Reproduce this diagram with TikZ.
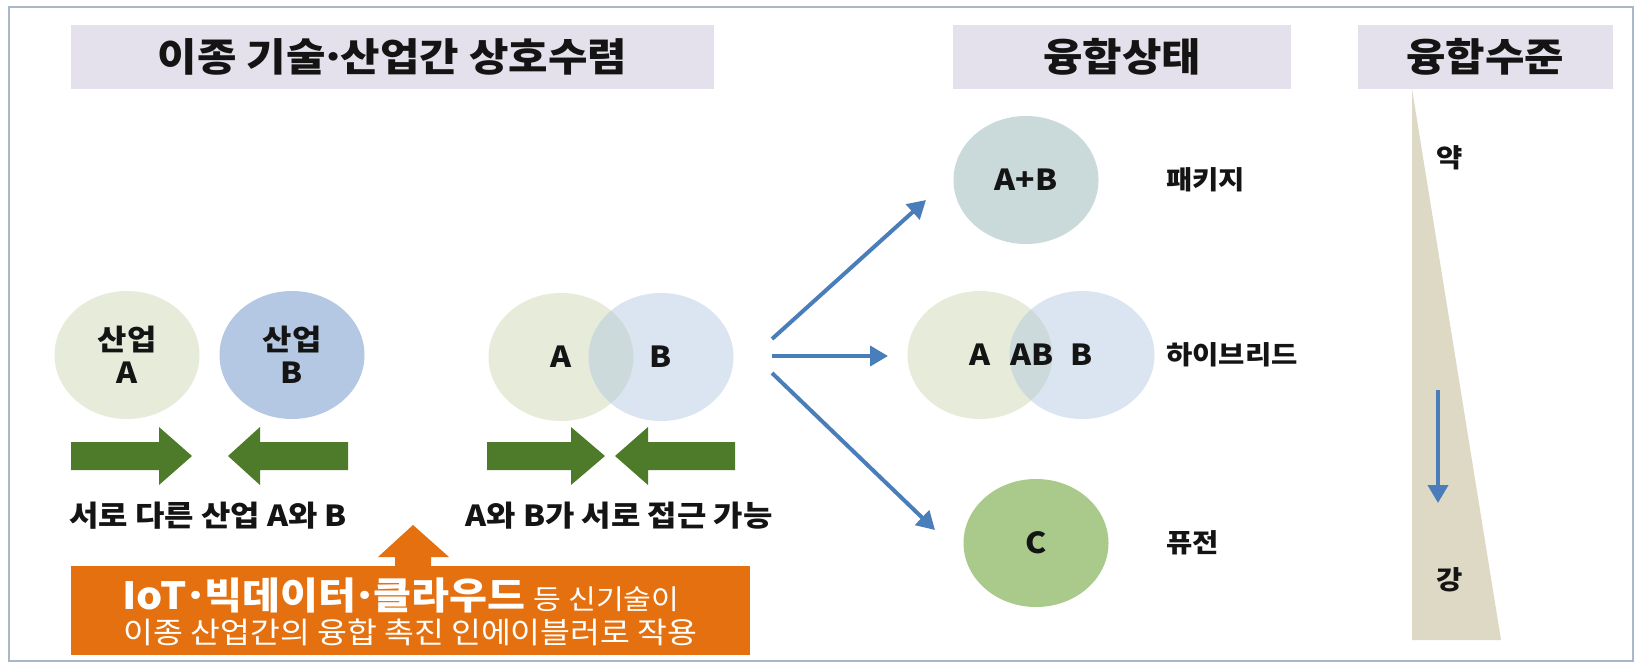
\documentclass[tikz,border=0pt]{standalone}
\usepackage{fontspec}
\setmainfont{Noto Sans CJK KR}[FakeStretch=1.1]
\newcommand{\mydot}{\kern-.14em·\kern-.14em}
\newcommand{\orgdot}{\kern-.1em·\kern-.1em}
\usetikzlibrary{shapes.geometric,arrows.meta}
\definecolor{framec}{HTML}{A9B7C8}
\definecolor{hdrc}{HTML}{E5E1EC}
\definecolor{cA}{HTML}{E7ECDA}
\definecolor{cB}{HTML}{B5C8E3}
\definecolor{cBt}{HTML}{ADC6E0}
\definecolor{cAB}{HTML}{CADADA}
\definecolor{cC}{HTML}{A9CA8B}
\definecolor{garrow}{HTML}{4E7B2A}
\definecolor{oranc}{HTML}{E5700F}
\definecolor{bluec}{HTML}{4A7EBB}
\definecolor{tanc}{HTML}{DDD9C5}
\definecolor{txt}{HTML}{141414}
\tikzset{
  hdr/.style={fill=hdrc, inner sep=0pt, minimum height=64pt, text=txt,
    font=\bfseries\fontsize{39}{42}\selectfont},
  circ/.style={ellipse, inner sep=0pt, minimum width=145pt, minimum height=128pt,
    text=txt, align=center, font=\bfseries\fontsize{29}{33}\selectfont},
  lbl/.style={inner sep=0pt, text=txt, font=\bfseries\fontsize{29}{33}\selectfont},
  rlbl/.style={inner sep=0pt, anchor=west, text=txt, font=\bfseries\fontsize{26}{30}\selectfont},
  barrow/.style={draw=bluec, line width=4pt, -{Triangle[length=18pt,width=20pt]}},
}
\begin{document}
\begin{tikzpicture}[x=1pt,y=-1pt]
\useasboundingbox (0,0) rectangle (1646,667);
\fill[white] (0,0) rectangle (1646,667);
\draw[framec, line width=2.5pt] (9,7) rectangle (1633,661);

% headers
\node[hdr, minimum width=643pt] (h1) at (392.5,57) {이종 기술\mydot 산업간 상호수렴};
\node[hdr, minimum width=338pt] (h2) at (1122,57) {융합상태};
\node[hdr, minimum width=255pt] (h3) at (1485,57) {융합수준};

% separate industries
\node[circ, fill=cA] (iA) at (127,355) {산업\\A};
\node[circ, fill=cB] (iB) at (292,355) {산업\\B};

% approaching industries
\node[circ, fill=cA] (pA) at (561,357) {A};
\node[circ, fill=cBt, fill opacity=0.45, text opacity=1] (pB) at (661,357) {B};

% green arrows
\fill[garrow] (71,442) -- (159,442) -- (159,427) -- (192,456) -- (159,485) -- (159,470) -- (71,470) -- cycle;
\fill[garrow] (348,442) -- (260,442) -- (260,427) -- (228,456) -- (260,485) -- (260,470) -- (348,470) -- cycle;
\fill[garrow] (487,442) -- (571,442) -- (571,427) -- (605,456) -- (571,485) -- (571,470) -- (487,470) -- cycle;
\fill[garrow] (735,442) -- (648,442) -- (648,427) -- (615,456) -- (648,485) -- (648,470) -- (735,470) -- cycle;

\node[lbl] (t1) at (208,516) {서로 다른 산업 A와 B};
\node[lbl] (t2) at (619,516) {A와 B가 서로 접근 가능};

% orange enabler
\fill[oranc] (395,566) -- (395,557) -- (378,557) -- (413,525) -- (449,557) -- (431,557) -- (431,566) -- cycle;
\node[fill=oranc, inner sep=0pt, minimum width=679pt, minimum height=89pt] (en) at (410.5,610.5) {};
\node[inner sep=0pt, text=white] (en1) at (401,595) {{\bfseries\fontsize{37.5}{40}\selectfont IoT\orgdot 빅데이터\orgdot 클라우드}\hspace{8pt}{\fontsize{27.5}{30}\selectfont 등 신기술이}};
\node[inner sep=0pt, text=white, font=\fontsize{29.5}{32}\selectfont] (en2) at (410.5,632) {이종 산업간의 융합 촉진 인에이블러로 작용};

% fork arrows
\coordinate (f1) at (772,339);
\coordinate (f2) at (772,356);
\coordinate (f3) at (772,373);
\coordinate (e1) at (926,200);
\coordinate (e2) at (888,356);
\coordinate (e3) at (935,530);
\draw[barrow] (f1) -- (e1);
\draw[barrow] (f2) -- (e2);
\draw[barrow] (f3) -- (e3);

% convergence states
\node[circ, fill=cAB] (pkg) at (1026,180) {A+B};
\node[circ, fill=cA] (hA) at (980,355) {A};
\node[circ, fill=cBt, fill opacity=0.45, text opacity=1] (hB) at (1082,355) {B};
\node[lbl] (hAB) at (1032,355) {AB};
\node[circ, fill=cC] (fus) at (1036,543) {C};

\node[rlbl] (l1) at (1166,180) {패키지};
\node[rlbl] (l2) at (1166,355) {하이브리드};
\node[rlbl] (l3) at (1166,543) {퓨전};

% level wedge
\fill[tanc] (1412,89) -- (1501,640) -- (1412,640) -- cycle;
\node[rlbl, anchor=center] (weak) at (1450,158) {약};
\node[rlbl, anchor=center] (strong) at (1450,580) {강};
\coordinate (d1) at (1438,390);
\coordinate (d2) at (1438,503);
\draw[barrow] (d1) -- (d2);
\end{tikzpicture}
\end{document}
